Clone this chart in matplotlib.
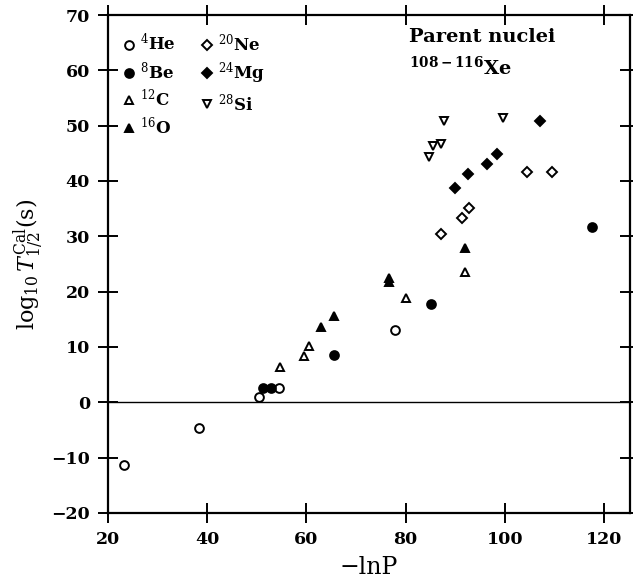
import matplotlib
matplotlib.use("Agg")
import matplotlib.pyplot as plt

plt.rcParams['font.family'] = ['DejaVu Serif']
plt.rcParams['mathtext.fontset'] = 'dejavuserif'

# Data (-lnP, log10 T1/2)
he_x = [23.3, 38.4, 50.4, 54.5, 77.9]
he_y = [-11.4, -4.6, 0.9, 2.6, 13.0]
be_x = [51.3, 52.8, 65.6, 85.0, 117.6]
be_y = [2.6, 2.6, 8.5, 17.8, 31.7]
c_x = [54.7, 59.6, 60.5, 80.0, 92.0]
c_y = [6.4, 8.3, 10.1, 18.8, 23.5]
o_x = [62.9, 65.6, 76.7, 76.7, 92.0]
o_y = [13.7, 15.6, 21.7, 22.4, 27.9]
ne_x = [87.1, 91.3, 92.7, 104.4, 109.4]
ne_y = [30.4, 33.4, 35.2, 41.7, 41.7]
mg_x = [90.0, 92.6, 96.3, 98.5, 107.0]
mg_y = [38.8, 41.3, 43.0, 44.8, 50.8]
si_x = [84.6, 85.5, 87.2, 87.8, 99.6]
si_y = [44.3, 46.4, 46.7, 50.8, 51.3]

labels = [r'$^{4}$He', r'$^{8}$Be', r'$^{12}$C', r'$^{16}$O',
          r'$^{20}$Ne', r'$^{24}$Mg', r'$^{28}$Si']
x_ticks = [20, 40, 60, 80, 100, 120]
y_ticks = [-20, -10, 0, 10, 20, 30, 40, 50, 60, 70]

fig = plt.figure(figsize=(6.33, 5.86), dpi=100)
ax = fig.add_axes([0.1706, 0.1246, 0.8246, 0.8498])

ms = 6.3
mew = 1.4
series = [
    (he_x, he_y, 'o', 'white'),
    (be_x, be_y, 'o', 'black'),
    (c_x, c_y, '^', 'white'),
    (o_x, o_y, '^', 'black'),
    (ne_x, ne_y, 'D', 'white'),
    (mg_x, mg_y, 'D', 'black'),
    (si_x, si_y, 'v', 'white'),
]
for (xs, ys, m, fc), lab in zip(series, labels):
    size = ms if m != 'D' else ms - 1.3
    ax.plot(xs, ys, linestyle='none', marker=m, markersize=size,
            markerfacecolor=fc, markeredgecolor='black', markeredgewidth=mew,
            label=lab, zorder=3)

ax.axhline(0, color='black', linewidth=1.0, zorder=1)

ax.set_xlim(20, 125.2)
ax.set_ylim(-20, 70)
ax.set_xticks(x_ticks)
ax.set_yticks(y_ticks)
ax.set_yticklabels([str(t).replace('-', '\u2212') for t in y_ticks])
for s in ax.spines.values():
    s.set_linewidth(1.6)
ax.tick_params(direction='inout', length=14, width=1.4, top=True, right=True,
               labelsize=12.5, pad=6)
for lab in ax.get_xticklabels() + ax.get_yticklabels():
    lab.set_fontweight('bold')

ax.set_xlabel('\u2212lnP', fontsize=17, labelpad=6)
ax.set_ylabel(r'$\mathrm{log}_{10}\,T^{\mathrm{Cal}}_{1/2}$(s)', fontsize=16, labelpad=4)

leg = ax.legend(loc='upper left', ncol=2, frameon=False, fontsize=12,
                handlelength=0.7, handletextpad=0.35, columnspacing=1.5,
                labelspacing=0.38, borderaxespad=0.5, bbox_to_anchor=(0.0, 0.995))
for t in leg.get_texts():
    t.set_fontweight('bold')

ax.text(0.577, 0.955, 'Parent nuclei', transform=ax.transAxes, fontsize=14,
        fontweight='bold', va='center', ha='left')
ax.text(0.577, 0.895, r'$^{\mathbf{108-116}}$Xe', transform=ax.transAxes,
        fontsize=14, fontweight='bold', va='center', ha='left')

fig.savefig('out.png', dpi=100)
